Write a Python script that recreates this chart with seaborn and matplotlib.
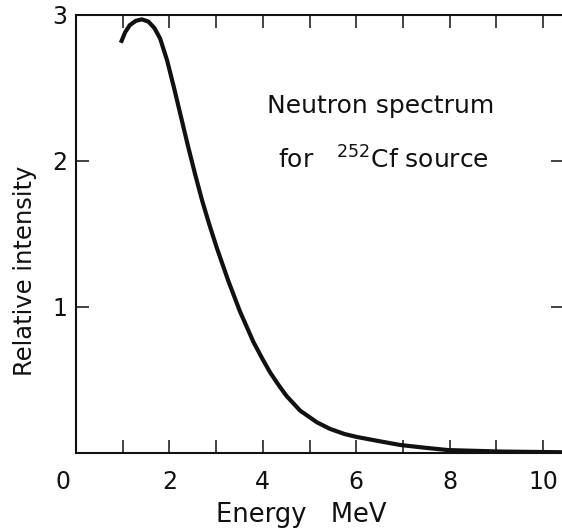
import numpy as np
import pandas as pd
import matplotlib
matplotlib.use("Agg")
import matplotlib.pyplot as plt
import matplotlib.transforms as mtransforms
import seaborn as sns

# spectrum
energy = [0.96, 1.05, 1.15, 1.28, 1.41, 1.55, 1.68, 1.80, 1.95, 2.10, 2.25, 2.40,
          2.55, 2.70, 2.85, 3.01, 3.26, 3.51, 3.80, 4.00, 4.16, 4.35, 4.51, 4.80,
          5.16, 5.44, 5.75, 6.01, 6.51, 6.94, 7.50, 7.97, 9.08, 10.45]
intensity = [2.81, 2.88, 2.93, 2.96, 2.97, 2.955, 2.91, 2.84, 2.69, 2.50, 2.30, 2.10,
             1.91, 1.73, 1.57, 1.41, 1.18, 0.97, 0.76, 0.64, 0.55, 0.46, 0.39, 0.29,
             0.21, 0.165, 0.13, 0.11, 0.08, 0.055, 0.035, 0.02, 0.01, 0.005]

x_ticks = list(range(0, 11))
x_labels = ['0', '', '2', '', '4', '', '6', '', '8', '', '10']
y_ticks = [1, 2, 3]
y_labels = ['1', '2', '3']

sns.set_style("ticks")
plt.rcParams['font.family'] = ['DejaVu Sans']
plt.rcParams['mathtext.fontset'] = 'custom'
plt.rcParams['mathtext.rm'] = 'DejaVu Sans'

df = pd.DataFrame({'energy': energy, 'intensity': intensity})

fig = plt.figure(figsize=(5.62, 5.28), dpi=100)
ax = fig.add_axes([76 / 562, 75 / 528, 488 / 562, 438 / 528])

sns.lineplot(data=df, x='energy', y='intensity', ax=ax, color='#111111',
             linewidth=3.0, solid_capstyle='butt', solid_joinstyle='round')

ax.set_xlim(0, 488 / 46.7)
ax.set_ylim(0, 3)

for side in ['left', 'bottom', 'top', 'right']:
    ax.spines[side].set_visible(True)
    ax.spines[side].set_linewidth(1.5)
    ax.spines[side].set_color('#111111')

ax.set_xticks(x_ticks)
ax.set_xticklabels(x_labels)
ax.set_yticks(y_ticks)
ax.set_yticklabels(y_labels)
ax.tick_params(axis='x', direction='in', length=9.5, width=1.1, top=True,
               labelsize=17, pad=12.5, colors='#111111')
ax.tick_params(axis='y', direction='in', length=9.5, width=1.1, right=True,
               labelsize=17, pad=6, colors='#111111')

# the "0" sits a little left of the corner in the original
tick0 = ax.xaxis.get_major_ticks()[0]
tick0.label1.set_transform(tick0.label1.get_transform() +
                           mtransforms.ScaledTranslation(-13 / 100, 0, fig.dpi_scale_trans))

ax.set_xlabel('Energy   MeV', fontsize=18.5, va='baseline', color='#111111')
ax.xaxis.set_label_coords(0.462, -0.1575)
ax.set_ylabel('Relative intensity', fontsize=17.5, va='center', color='#111111')
ax.yaxis.set_label_coords(-0.1045, 0.4155)

ax.text(4.09, 2.33, 'Neutron spectrum', fontsize=18, ha='left', va='baseline',
        color='#111111')
ax.text(4.33, 1.95, r'for   $^{252}$Cf source', fontsize=18, ha='left',
        va='baseline', color='#111111')

fig.savefig('out.png', dpi=100)
plt.close(fig)
